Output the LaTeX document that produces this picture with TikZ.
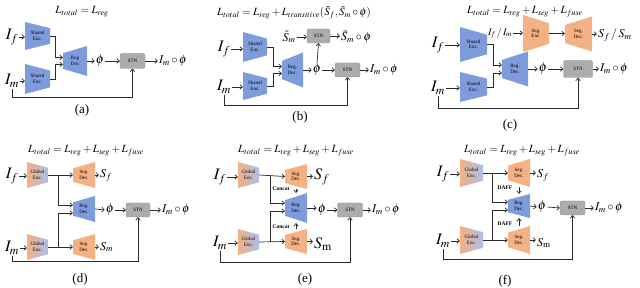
\documentclass[tikz,border=0pt]{standalone}
\usepackage{mathptmx}
\usepackage{fontspec}
\setmainfont{Liberation Serif}
\usetikzlibrary{arrows.meta,calc}
\definecolor{RegBlue}  {HTML}{7E9CDC}
\definecolor{SegOrange}{HTML}{F4B183}
\definecolor{StnGray}  {HTML}{ADABAB}
\definecolor{StnEdge}  {HTML}{909090}
\definecolor{LineDark} {HTML}{2A2A2A}

\tikzset{
  >={Straight Barb[length=2.4pt,width=4.6pt]},
  conn/.style={->,draw=LineDark,line width=0.7pt},
  sz/.style 2 args={minimum width=#1pt,minimum height=#2pt},
  blk/.style={inner sep=0pt,align=center,font=\fontsize{5}{5.6}\selectfont},
  narrowR/.style={path picture={\fill[#1] (path picture bounding box.north west)
      -- ($(path picture bounding box.north east)!.22!(path picture bounding box.south east)$)
      -- ($(path picture bounding box.south east)!.22!(path picture bounding box.north east)$)
      -- (path picture bounding box.south west) -- cycle;}},
  narrowL/.style={path picture={\fill[#1] (path picture bounding box.north east)
      -- ($(path picture bounding box.north west)!.24!(path picture bounding box.south west)$)
      -- ($(path picture bounding box.south west)!.24!(path picture bounding box.north west)$)
      -- (path picture bounding box.south east) -- cycle;}},
  gradR/.style={path picture={\shade[left color=SegOrange,right color=RegBlue!65] (path picture bounding box.north west)
      -- ($(path picture bounding box.north east)!.22!(path picture bounding box.south east)$)
      -- ($(path picture bounding box.south east)!.22!(path picture bounding box.north east)$)
      -- (path picture bounding box.south west) -- cycle;}},
  encB/.style={blk,narrowR=RegBlue},
  decB/.style={blk,narrowL=RegBlue},
  encO/.style={blk,narrowR=SegOrange},
  decO/.style={blk,narrowL=SegOrange},
  encG/.style={blk,gradR},
  stnbox/.style={draw=StnEdge,fill=StnGray,rounded corners=2pt,inner sep=0pt,
    font=\fontsize{5}{5}\selectfont},
  ttl/.style={inner sep=0pt,font=\fontsize{11}{12}\selectfont},
  inlbl/.style={inner sep=1pt,font=\fontsize{16}{17}\selectfont},
  outlbl/.style={inner sep=1pt,font=\fontsize{12}{13}\selectfont},
  phinode/.style={inner sep=1pt,font=\fontsize{13}{14}\selectfont},
  caplbl/.style={inner sep=0pt,font=\fontsize{13}{14}\selectfont},
  tag/.style={inner sep=0pt,font=\fontsize{5.5}{6}\selectfont\bfseries}
}

\begin{document}
\begin{tikzpicture}[x=1pt,y=-1pt]
\useasboundingbox (0,0) rectangle (640,288);

% (a) shared encoders
\node[ttl] (ttla) at (82,12) {$L_{total}=L_{reg}$};
\node[inlbl] (ifa) at (12,37) {$I_f$};
\node[inlbl] (ima) at (12,81) {$I_m$};
\node[encB,sz={25}{28}] (enc1a) at (37.5,36) {Shared\\Enc.};
\node[encB,sz={25}{30}] (enc2a) at (37.5,79) {Shared\\Enc.};
\node[decB,sz={24}{30}] (deca) at (75,61) {Reg\\Dec};
\node[phinode] (phia) at (100,61) {$\phi$};
\node[stnbox,sz={25}{15}] (stna) at (132.5,61) {STN};
\node[outlbl,anchor=west] (outa) at (158,61) {$I_m\circ\phi$};
\node[caplbl] (lbla) at (82,110) {(a)};
\draw[conn] (ifa.east) -- (ifa.east -| enc1a.west);
\draw[conn] (ima.east) -- (ima.east -| enc2a.west);
\draw[conn] (enc1a.east) -- ++(5,0) |- ([yshift=3.5pt]deca.west);
\draw[conn] (enc2a.east) -- ++(5,0) |- ([yshift=-3.5pt]deca.west);
\draw[conn] (deca.east) -- (phia.west);
\draw[conn] (phia.east) -- (stna.west);
\draw[conn] (stna.east) -- (outa.west);
\draw[conn] (ima.south) |- ($(stna.south)+(0,29)$) -- (stna.south);

% (b) transitive loss
\node[ttl] (ttlb) at (294,13) {$L_{total}=L_{reg}+L_{transitive}(\tilde{S}_f,\tilde{S}_m\circ\phi)$};
\node[inlbl] (ifb) at (224,49) {$I_f$};
\node[inlbl] (imb) at (224,87) {$I_m$};
\node[encB,sz={24}{30}] (enc1b) at (255,47) {Shared\\Enc.};
\node[encB,sz={24}{28}] (enc2b) at (255,86) {Shared\\Enc.};
\node[decB,sz={21}{35}] (decb) at (292.5,70) {Reg.\\Dec.};
\node[phinode] (phib) at (317,70) {$\phi$};
\node[stnbox,sz={25}{14}] (stnb) at (347.5,70) {STN};
\node[outlbl,anchor=west] (outb) at (369,70) {$I_m\circ\phi$};
\node[stnbox,sz={23}{14}] (stntb) at (318.5,36) {STN};
\node[outlbl] (smb) at (289,37) {$\tilde{S}_m$};
\node[outlbl,anchor=west] (outtb) at (340,37) {$\tilde{S}_m\circ\phi$};
\node[caplbl] (lblb) at (300,117) {(b)};
\draw[conn] (ifb.east) -- (ifb.east -| enc1b.west);
\draw[conn] (imb.east) -- (imb.east -| enc2b.west);
\draw[conn] (enc1b.east) -- ++(6,0) |- ([yshift=3.5pt]decb.west);
\draw[conn] (enc2b.east) -- ++(6,0) |- ([yshift=-3.5pt]decb.west);
\draw[conn] (decb.east) -- (phib.west);
\draw[conn] (phib.east) -- (stnb.west);
\draw[conn] (stnb.east) -- (outb.west);
\draw[conn] (phib.north) -- (stntb.south);
\draw[conn] (smb.east) -- (smb.east -| stntb.west);
\draw[conn] (stntb.east) -- (stntb.east -| outtb.west);
\draw[conn] (imb.south) |- ($(stnb.south)+(0,28)$) -- (stnb.south);

% (c) separate segmentation branch
\node[ttl] (ttlc) at (525,12) {$L_{total}=L_{reg}+L_{seg}+L_{fuse}$};
\node[inlbl] (ifc) at (438,45) {$I_f$};
\node[inlbl] (imc) at (438,88) {$I_m$};
\node[encB,sz={27}{35}] (enc1c) at (473.5,44.5) {Shared\\Enc.};
\node[encB,sz={27}{30}] (enc2c) at (473.5,87) {Shared\\Enc.};
\node[decB,sz={26}{35}] (decc) at (515,69) {Reg.\\Dec.};
\node[phinode] (phic) at (543,69) {$\phi$};
\node[stnbox,sz={29}{17}] (stnc) at (578,69) {STN};
\node[outlbl,anchor=west] (outc) at (599,69) {$I_m\circ\phi$};
\node[inner sep=1pt,font=\fontsize{10}{11}\selectfont] (ifmc) at (500,33) {$I_f\,/\,I_m$};
\node[encO,sz={26}{37}] (segencc) at (536,33.5) {Seg.\\Enc.};
\node[decO,sz={27}{35}] (segdecc) at (578.5,34) {Seg.\\Dec.};
\node[outlbl,anchor=west] (sfmc) at (597,35) {$S_f\,/\,S_m$};
\node[caplbl] (lblc) at (510,125) {(c)};
\draw[conn] (ifc.east) -- (ifc.east -| enc1c.west);
\draw[conn] (imc.east) -- (imc.east -| enc2c.west);
\draw[conn] (enc1c.east) -- ++(6,0) |- ([yshift=4pt]decc.west);
\draw[conn] (enc2c.east) -- ++(6,0) |- ([yshift=-4pt]decc.west);
\draw[conn] (decc.east) -- (phic.west);
\draw[conn] (phic.east) -- (stnc.west);
\draw[conn] (stnc.east) -- (outc.west);
\draw[conn] (ifmc.east) -- (ifmc.east -| segencc.west);
\draw[conn] (segencc.east) -- (segencc.east -| segdecc.west);
\draw[conn] (segdecc.east) -- (segdecc.east -| sfmc.west);
\draw[conn] (imc.south) |- ($(stnc.south)+(0,30.5)$) -- (stnc.south);

% (d) global encoder, multi-task
\node[ttl] (ttld) at (86,151) {$L_{total}=L_{reg}+L_{seg}+L_{fuse}$};
\node[inlbl] (ifd) at (12,176) {$I_f$};
\node[inlbl] (imd) at (12,248) {$I_m$};
\node[encG,sz={21}{26}] (genc1d) at (37.5,175) {Global\\Enc.};
\node[encG,sz={21}{26}] (genc2d) at (37.5,247) {Global\\Enc.};
\node[decO,sz={22}{26}] (sdec1d) at (84,175) {Seg.\\Dec.};
\node[decO,sz={22}{26}] (sdec2d) at (84,247) {Seg.\\Dec.};
\node[decB,sz={22}{26}] (decd) at (84,209) {Reg.\\Dec.};
\node[outlbl,anchor=west] (sfd) at (99,175) {$S_f$};
\node[outlbl,anchor=west] (smd) at (99,247) {$S_m$};
\node[phinode] (phid) at (110,210) {$\phi$};
\node[stnbox,sz={24}{14}] (stnd) at (138,210) {STN};
\node[outlbl,anchor=west] (outd) at (161,210) {$I_m\circ\phi$};
\node[caplbl] (lbld) at (80,279) {(d)};
\draw[conn] (ifd.east) -- (ifd.east -| genc1d.west);
\draw[conn] (imd.east) -- (imd.east -| genc2d.west);
\draw[conn] (genc1d.east) -- (sdec1d.west);
\draw[conn] (genc2d.east) -- (sdec2d.west);
\draw[conn] ($(genc1d.east)+(10,0)$) |- ([yshift=4pt]decd.west);
\draw[conn] ($(genc2d.east)+(10,0)$) |- ([yshift=-4pt]decd.west);
\draw[conn] (sdec1d.east) -- (sfd.west);
\draw[conn] (sdec2d.east) -- (smd.west);
\draw[conn] (decd.east) -- (phid.west);
\draw[conn] (phid.east) -- (stnd.west);
\draw[conn] (stnd.east) -- (outd.west);
\draw[conn] (imd.south) |- ($(stnd.south)+(0,44)$) -- (stnd.south);

% (e) concat of seg features
\node[ttl] (ttle) at (296,151) {$L_{total}=L_{reg}+L_{seg}+L_{fuse}$};
\node[inlbl] (ife) at (220,177) {$I_f$};
\node[inlbl] (ime) at (220,243) {$I_m$};
\node[encG,sz={21}{26}] (genc1e) at (248.5,175) {Global\\Enc.};
\node[encG,sz={21}{26}] (genc2e) at (248.5,242) {Global\\Enc.};
\node[decO,sz={22}{25}] (sdec1e) at (296,176.5) {Seg.\\Dec.};
\node[decO,sz={22}{25}] (sdec2e) at (296,241.5) {Seg.\\Dec.};
\node[decB,sz={22}{30}] (dece) at (296,208) {Reg.\\Dec.};
\node[inlbl,anchor=west] (sfe) at (313,177) {$S_f$};
\node[inlbl,anchor=west] (sme) at (313,244) {$S_{\mathrm{m}}$};
\node[tag] (cat1e) at (281,189) {Concat};
\node[tag] (cat2e) at (281,227) {Concat};
\node[phinode] (phie) at (322,210) {$\phi$};
\node[stnbox,sz={25}{14}] (stne) at (350,210) {STN};
\node[outlbl,anchor=west] (oute) at (371,210) {$I_m\circ\phi$};
\node[caplbl] (lble) at (305,279) {(e)};
\draw[conn] (ife.east) -- (ife.east -| genc1e.west);
\draw[conn] (ime.east) -- (ime.east -| genc2e.west);
\draw[conn] (genc1e.east) -- (sdec1e.west);
\draw[conn] (genc2e.east) -- (sdec2e.west);
\draw[conn] ($(genc1e.east)+(11,0)$) |- ([yshift=5pt]dece.west);
\draw[conn] ($(genc2e.east)+(11,0)$) |- ([yshift=-3pt]dece.west);
\draw[conn] (sdec1e.south) -- (dece.north);
\draw[conn] (sdec2e.north) -- (dece.south);
\draw[conn] (sdec1e.east) -- (sdec1e.east -| sfe.west);
\draw[conn] (sdec2e.east) -- (sdec2e.east -| sme.west);
\draw[conn] (dece.east) -- (dece.east -| phie.west);
\draw[conn] (phie.east) -- (stne.west);
\draw[conn] (stne.east) -- (oute.west);
\draw[conn] (ime.south) |- ($(stne.south)+(0,45)$) -- (stne.south);

% (f) DAFF fusion
\node[ttl] (ttlf) at (522,151) {$L_{total}=L_{reg}+L_{seg}+L_{fuse}$};
\node[inlbl] (iff) at (443,174) {$I_f$};
\node[inlbl] (imf) at (443,241) {$I_m$};
\node[encG,sz={23}{28}] (genc1f) at (471.5,173) {Global\\Enc.};
\node[encG,sz={23}{28}] (genc2f) at (471.5,240) {Global\\Enc.};
\node[decO,sz={22}{28}] (sdec1f) at (519,173) {Seg.\\Dec.};
\node[decO,sz={22}{28}] (sdec2f) at (519,240) {Seg.\\Dec.};
\node[decB,sz={22}{24}] (decf) at (519,206) {Reg.\\Dec.};
\node[outlbl,anchor=west] (sff) at (536,175) {$S_f$};
\node[outlbl,anchor=west] (smf) at (536,243) {$S_{\mathrm{m}}$};
\node[tag] (daff1f) at (505,188) {DAFF};
\node[tag] (daff2f) at (505,224) {DAFF};
\node[phinode] (phif) at (542,207) {$\phi$};
\node[stnbox,sz={25}{14}] (stnf) at (572.5,208) {STN};
\node[outlbl,anchor=west] (outf) at (594,208) {$I_m\circ\phi$};
\node[caplbl] (lblf) at (505,281) {(f)};
\draw[conn] (iff.east) -- (iff.east -| genc1f.west);
\draw[conn] (imf.east) -- (imf.east -| genc2f.west);
\draw[conn] (genc1f.east) -- (sdec1f.west);
\draw[conn] (genc2f.east) -- (sdec2f.west);
\draw[conn] ($(genc1f.east)+(9,0)$) |- ([yshift=4pt]decf.west);
\draw[conn] ($(genc2f.east)+(9,0)$) |- ([yshift=-4pt]decf.west);
\draw[conn] (sdec1f.south) -- (decf.north);
\draw[conn] (sdec2f.north) -- (decf.south);
\draw[conn] (sdec1f.east) -- (sdec1f.east -| sff.west);
\draw[conn] (sdec2f.east) -- (sdec2f.east -| smf.west);
\draw[conn] (decf.east) -- (phif.west);
\draw[conn] (phif.east) -- (stnf.west);
\draw[conn] (stnf.east) -- (outf.west);
\draw[conn] (imf.south) |- ($(stnf.south)+(0,44)$) -- (stnf.south);
\end{tikzpicture}
\end{document}
